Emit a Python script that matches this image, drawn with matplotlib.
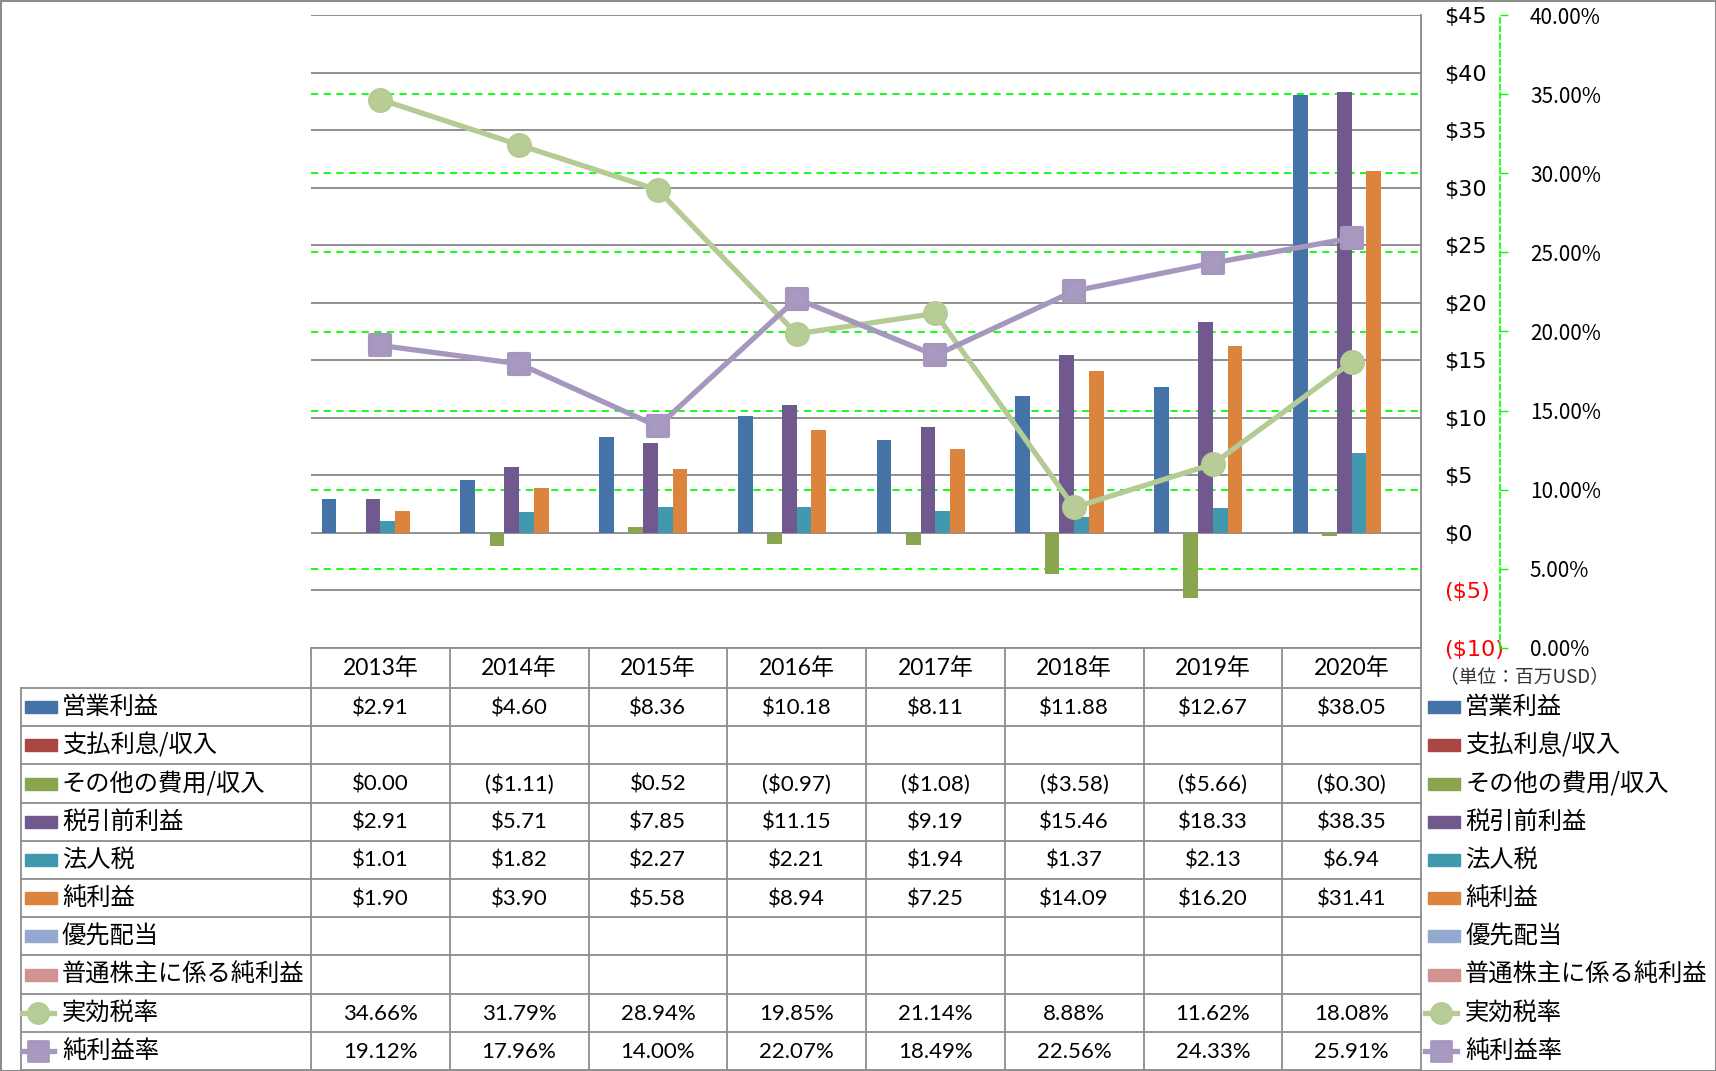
import matplotlib
matplotlib.use('Agg')
import matplotlib.pyplot as plt
import matplotlib.transforms as mtransforms
from matplotlib.lines import Line2D
from matplotlib.patches import Rectangle
from matplotlib.markers import MarkerStyle

plt.rcParams['font.family'] = ['Noto Sans CJK JP', 'DejaVu Sans']

# ---- data (million USD / percent) ----
years = ['2013年', '2014年', '2015年', '2016年', '2017年', '2018年', '2019年', '2020年']
bar_names = ['営業利益', '支払利息/収入', 'その他の費用/収入', '税引前利益',
             '法人税', '純利益', '優先配当', '普通株主に係る純利益']
op_income = [2.91, 4.60, 8.36, 10.18, 8.11, 11.88, 12.67, 38.05]
interest = [None] * 8
other_exp = [0.00, -1.11, 0.52, -0.97, -1.08, -3.58, -5.66, -0.30]
pretax = [2.91, 5.71, 7.85, 11.15, 9.19, 15.46, 18.33, 38.35]
income_tax = [1.01, 1.82, 2.27, 2.21, 1.94, 1.37, 2.13, 6.94]
net_income = [1.90, 3.90, 5.58, 8.94, 7.25, 14.09, 16.20, 31.41]
preferred = [None] * 8
common_net = [None] * 8
line_names = ['実効税率', '純利益率']
tax_rate = [34.66, 31.79, 28.94, 19.85, 21.14, 8.88, 11.62, 18.08]
net_margin = [19.12, 17.96, 14.00, 22.07, 18.49, 22.56, 24.33, 25.91]

bar_series = [op_income, interest, other_exp, pretax, income_tax,
              net_income, preferred, common_net]
bar_colors = ['#4572A7', '#AA4643', '#89A54E', '#71588F',
              '#4198AF', '#DB843D', '#93A9CF', '#D19392']
green = '#B5CB94'
purple = '#A597BD'
lime = '#00FF00'
gridgray = '#878787'

W, H = 1716, 1071
fig = plt.figure(figsize=(W / 100, H / 100), dpi=100)

# plot area in pixels
L, R, T, B = 311, 1421, 15, 648
ax = fig.add_axes([L / W, 1 - B / H, (R - L) / W, (B - T) / H])
ax.set_xlim(-0.5, 7.5)
ax.set_ylim(-10, 45)

bw = 0.106
xs = list(range(len(years)))
for i, (vals, col) in enumerate(zip(bar_series, bar_colors)):
    if vals[0] is None:
        continue
    off = (i - 3.5) * bw
    ax.bar([x + off for x in xs], vals, width=bw, color=col, zorder=2)

# secondary percent axis (twinx resets the primary ticks to the left)
ax2 = ax.twinx()
ax2.set_ylim(0, 40)

yt = list(range(-10, 50, 5))
ylabels = [f'${v}' if v >= 0 else f'(${-v})' for v in yt]
ax.set_yticks(yt, ylabels)
ax.yaxis.tick_right()
ax.tick_params(axis='y', length=0, pad=16.5, labelsize=16)
for lab, v in zip(ax.get_yticklabels(), yt):
    lab.set_family('DejaVu Sans')
    lab.set_color('red' if v < 0 else 'black')
ax.tick_params(axis='x', bottom=False, labelbottom=False)
ax.yaxis.grid(True, color=gridgray, lw=1.3)
ax.set_axisbelow(True)
for s in ['left', 'top', 'bottom']:
    ax.spines[s].set_visible(False)
ax.spines['right'].set_color(gridgray)
ax.spines['right'].set_linewidth(1.3)

pt = list(range(0, 45, 5))
ax2.set_yticks(pt, [f'{v:.2f}%' for v in pt])
ax2.tick_params(axis='y', length=6, width=1, color=lime, pad=15.5, labelsize=15)
for lab in ax2.get_yticklabels():
    lab.set_family('DejaVu Sans')
for s in ['left', 'top', 'bottom']:
    ax2.spines[s].set_visible(False)
ax2.spines['right'].set_position(('axes', (1500 - L) / (R - L)))
ax2.spines['right'].set_color(lime)
ax2.spines['right'].set_linestyle((0, (3, 2)))
ax2.spines['right'].set_linewidth(1.2)

# green dashed gridlines for percent axis, drawn behind bars
trans = mtransforms.blended_transform_factory(ax.transAxes, ax2.transData)
for p in pt[1:-1]:
    ax.add_line(Line2D([0, 1], [p, p], transform=trans, color=lime,
                       lw=1.3, ls=(0, (4, 3)), zorder=1))

circ = MarkerStyle('o')
sq = MarkerStyle('s', joinstyle='round')
ax2.plot(xs, tax_rate, color=green, lw=3.8, marker=circ, ms=16.5,
         mfc='#B8CD96', mec=green, mew=1.5, zorder=3)
ax2.plot(xs, net_margin, color=purple, lw=3.8, marker=sq, ms=14.5,
         mfc='#A799BF', mec=purple, mew=3, zorder=3)

# ---- data table ----
tab = fig.add_axes([0, 0, 1, 1])
tab.set_xlim(0, W)
tab.set_ylim(H, 0)
tab.axis('off')

num_font = ['Lato', 'Noto Sans CJK JP']
col_w = (R - L) / len(years)
head_top, row_top = B, 688
row_h = (1070 - row_top) / 10
lc = '#8C8C8C'
tab.plot([L, R], [head_top, head_top], color=lc, lw=1.3)
for k in range(11):
    y = row_top + k * row_h
    tab.plot([21, R], [y, y], color=lc, lw=1.3)
tab.plot([21, 21], [row_top, row_top + 10 * row_h], color=lc, lw=1.3)
for j in range(len(years) + 1):
    x = L + j * col_w
    tab.plot([x, x], [head_top, row_top + 10 * row_h], color=lc, lw=1.3)

for j, yr in enumerate(years):
    tab.text(L + (j + 0.5) * col_w, (head_top + row_top) / 2, yr,
             ha='center', va='center', fontsize=16.5, family=num_font)


def money(v):
    if v is None:
        return ''
    return f'${v:.2f}' if v >= 0 else f'(${-v:.2f})'


rows = [(n, [money(v) for v in s]) for n, s in zip(bar_names, bar_series)]
rows += [(line_names[0], [f'{v:.2f}%' for v in tax_rate]),
         (line_names[1], [f'{v:.2f}%' for v in net_margin])]
keys = [('bar', c) for c in bar_colors] + [('line', green, circ, '#B8CD96'),
                                            ('line', purple, sq, '#A799BF')]

for k, ((name, cells), key) in enumerate(zip(rows, keys)):
    yc = row_top + (k + 0.5) * row_h
    for j, txt in enumerate(cells):
        tab.text(L + (j + 0.5) * col_w, yc + 1, txt, ha='center', va='center',
                 fontsize=16, family=num_font)
    for kx, tx in [(25, 62), (1428, 1465)]:
        if key[0] == 'bar':
            tab.add_patch(Rectangle((kx, yc - 6), 32, 12, color=key[1]))
        else:
            tab.plot([kx - 3, kx + 29], [yc, yc], color=key[1], lw=3.8)
            tab.plot([kx + 13], [yc], marker=key[2], ms=14.5, color=key[1],
                     mfc=key[3], mec=key[1], mew=2)
        tab.text(tx, yc, name, ha='left', va='center', fontsize=17.5)

tab.text(1440, 677, '（単位：百万USD）', ha='left', va='center', fontsize=13.5,
         color='#333333')

# outer border
tab.add_patch(Rectangle((0.5, 0.5), W - 1, H - 1, fill=False, ec='#8C8C8C', lw=1.5))

fig.savefig('out.png', dpi=100)
